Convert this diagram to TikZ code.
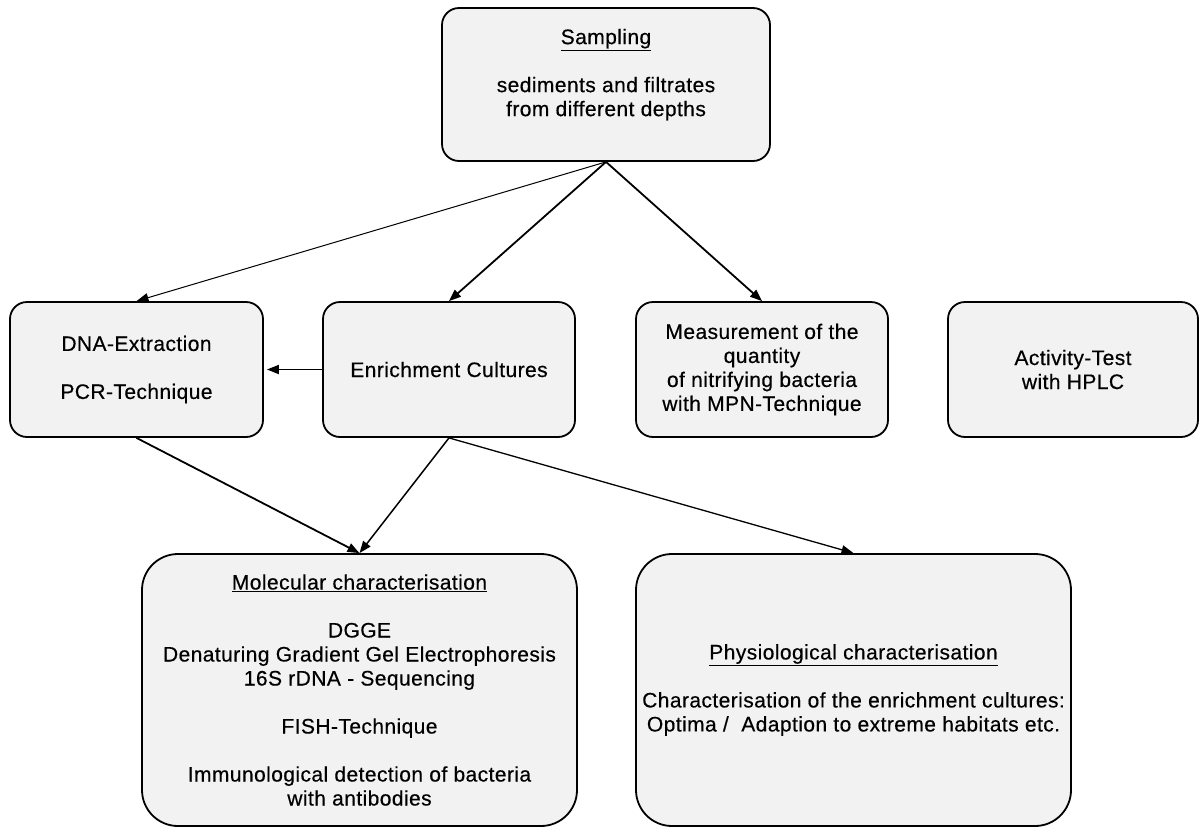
\documentclass[tikz,border=0pt]{standalone}
\usepackage{fontspec}
\setmainfont[LetterSpace=2,FakeBold=0.4]{Liberation Sans}
\usepackage{tikz}
\usetikzlibrary{arrows.meta}

\begin{document}
\begin{tikzpicture}[x=1pt, y=-1pt,
        box/.style={draw=black, line width=1.8pt, fill=black!5, rounded corners=17pt,
            align=center, inner sep=0pt, text=black,
            font=\fontsize{21}{24}\selectfont},
        bigbox/.style={box, rounded corners=36pt},
        thick arrow/.style={line width=1.8pt, -{Triangle[length=12pt,width=9pt]}},
        thin arrow/.style={line width=1pt, -{Triangle[length=12pt,width=9pt]}}]
        % frame
        \useasboundingbox (0,0) rectangle (1202,828);

        % boxes
        \node[box, minimum width=328pt, minimum height=153pt] (sampling) at (606,84.5)
            {\underline{Sampling}\\[24pt] sediments and filtrates\\from different depths\\ \mbox{}};
        \node[box, minimum width=253pt, minimum height=135pt] (dna) at (136.5,369.5)
            {DNA-Extraction\\[24pt] PCR-Technique};
        \node[box, minimum width=252pt, minimum height=135pt] (enrich) at (449,369.5)
            {Enrichment Cultures};
        \node[box, minimum width=252pt, minimum height=135pt] (measure) at (762,369.5)
            {Measurement of the\\quantity\\of nitrifying bacteria\\with MPN-Technique};
        \node[box, minimum width=250pt, minimum height=135pt] (activity) at (1073,369.5)
            {Activity-Test\\with HPLC};
        \node[bigbox, minimum width=435pt, minimum height=272pt] (molec) at (359.5,690)
            {\underline{Molecular characterisation}\\[24pt] DGGE\\Denaturing Gradient Gel Electrophoresis\\16S rDNA - Sequencing\\[24pt]
             FISH-Technique\\[24pt] Immunological detection of bacteria\\with antibodies};
        \node[bigbox, minimum width=435pt, minimum height=272pt] (physio) at (853.5,690)
            {\underline{Physiological characterisation}\\[24pt] Characterisation of the enrichment cultures:\\Optima /\ \ Adaption to extreme habitats etc.};

        % arrows
        \draw[thin arrow] (sampling.south) -- (dna.north);
        \draw[thick arrow] (sampling.south) -- (enrich.north);
        \draw[thick arrow] (sampling.south) -- (measure.north);
        \draw[thick arrow, shorten >=3pt] (enrich.west) -- (dna.east);
        \draw[thick arrow] (dna.south) -- (molec.north);
        \draw[thick arrow, line width=1.5pt] (enrich.south) -- (molec.north);
        \draw[thin arrow, line width=1.3pt] (enrich.south) -- (physio.north);

    \end{tikzpicture}
\end{document}
